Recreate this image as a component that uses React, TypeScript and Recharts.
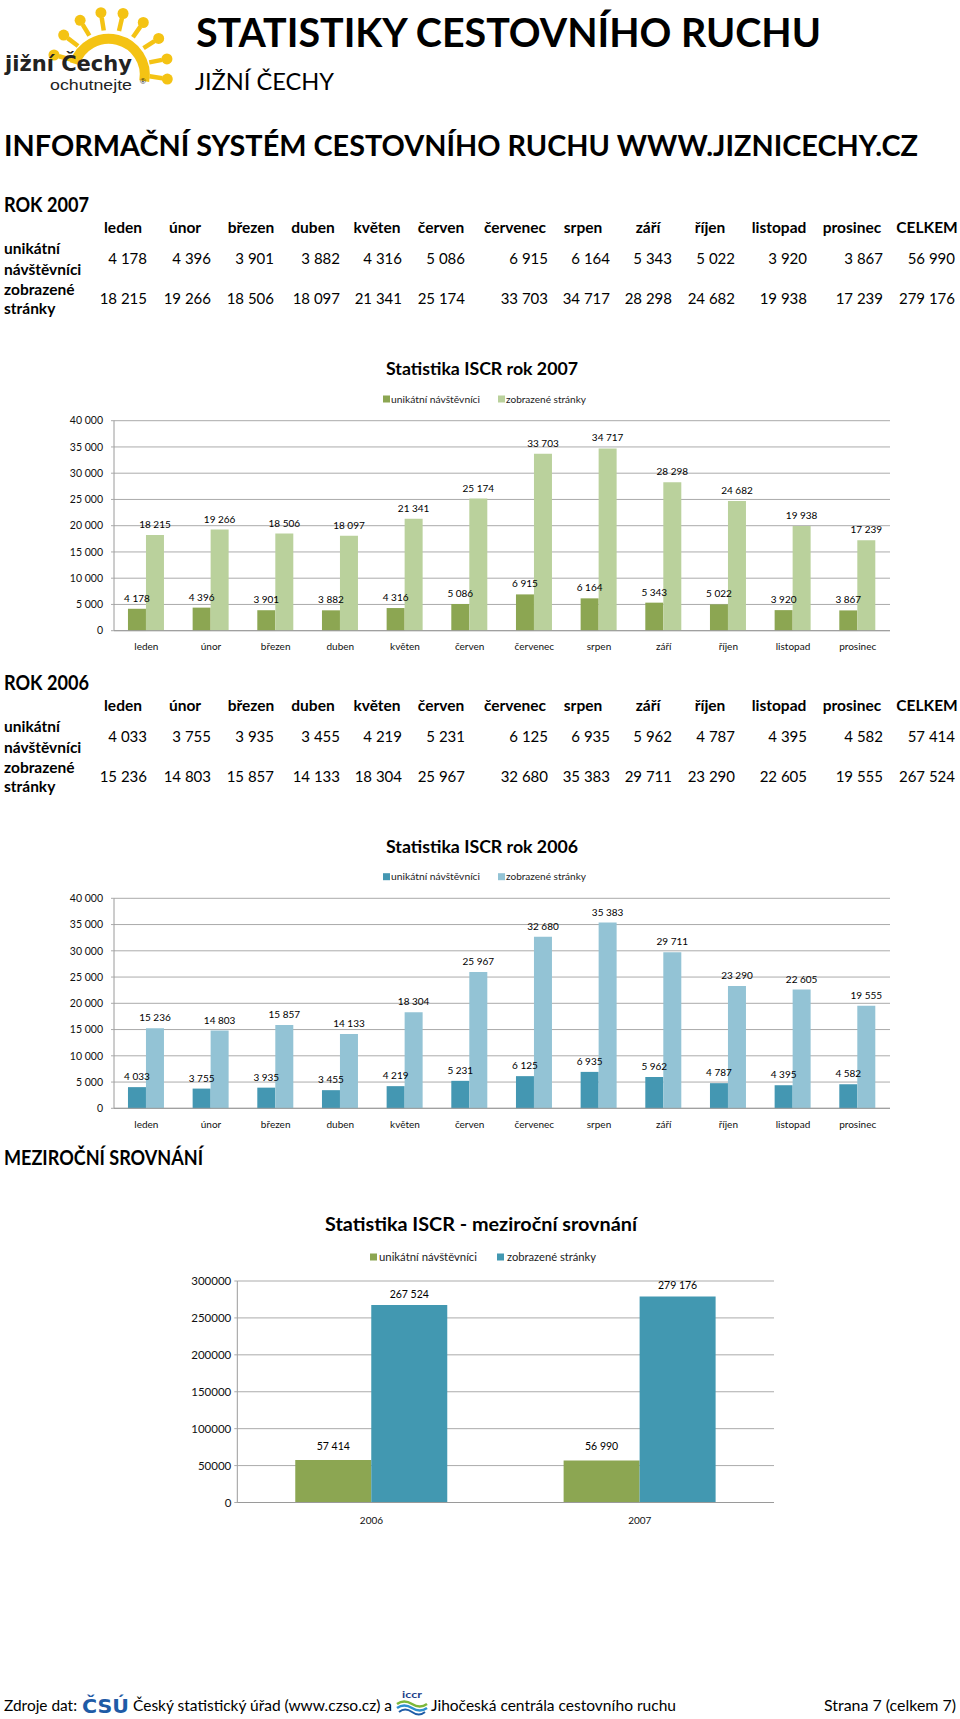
import React from 'react';
import { BarChart, Bar, XAxis, YAxis, CartesianGrid, LabelList } from 'recharts';

// ---------- data ----------
const months = ['leden', 'únor', 'březen', 'duben', 'květen', 'červen', 'červenec', 'srpen', 'září', 'říjen', 'listopad', 'prosinec'];
const visitors2007 = [4178, 4396, 3901, 3882, 4316, 5086, 6915, 6164, 5343, 5022, 3920, 3867];
const pages2007 = [18215, 19266, 18506, 18097, 21341, 25174, 33703, 34717, 28298, 24682, 19938, 17239];
const visitors2006 = [4033, 3755, 3935, 3455, 4219, 5231, 6125, 6935, 5962, 4787, 4395, 4582];
const pages2006 = [15236, 14803, 15857, 14133, 18304, 25967, 32680, 35383, 29711, 23290, 22605, 19555];
const years = ['2006', '2007'];
const totalVisitors = [57414, 56990];
const totalPages = [267524, 279176];
const seriesNames = ['unikátní návštěvníci', 'zobrazené stránky'];
const rowLabels = [['unikátní', 'návštěvníci'], ['zobrazené', 'stránky']];
const totalHeader = 'CELKEM';
const ticksMonthly = [0, 5000, 10000, 15000, 20000, 25000, 30000, 35000, 40000];
const ticksYearly = [0, 50000, 100000, 150000, 200000, 250000, 300000];

// ---------- layout ----------
const colCenters = [123, 185, 251, 313, 377, 441, 515, 583, 648, 710, 779, 852, 927];
const colRights = [147, 211, 274, 340, 402, 465, 548, 610, 672, 735, 807, 883, 955];

const C = {
  g1: '#8CA652',
  g2: '#BAD19C',
  b1: '#4497B2',
  b2: '#93C3D5',
  t3: '#4298B1',
  grid: '#ABABAB',
  axis: '#9A9A9A',
};

const FONT = 'Lato, "Noto Sans", sans-serif';

// thousands separated by a space (plain space for the tables)
const fmt = (v: any) => String(v).replace(/\B(?=(\d{3})+(?!\d))/g, ' ');
// non-breaking space for chart labels so they never wrap
const fmtNb = (v: any) => String(v).replace(/\B(?=(\d{3})+(?!\d))/g, '\u00A0');

const data2007 = months.map((m, i) => ({ month: m, visitors: visitors2007[i], pages: pages2007[i] }));
const data2006 = months.map((m, i) => ({ month: m, visitors: visitors2006[i], pages: pages2006[i] }));
const dataYears = years.map((y, i) => ({ year: y, visitors: totalVisitors[i], pages: totalPages[i] }));

type TP = {
  x: number; y: number; children: any; size?: number; weight?: number | string;
  anchor?: 'start' | 'middle' | 'end'; len?: number; fill?: string; family?: string; style?: any;
};
const Txt = ({ x, y, children, size = 15, weight = 400, anchor = 'start', len, fill = '#000', family = FONT, style }: TP) => (
  <text
    x={x}
    y={y}
    fontSize={size}
    fontWeight={weight}
    textAnchor={anchor}
    fill={fill}
    fontFamily={family}
    textLength={len}
    lengthAdjust={len ? 'spacingAndGlyphs' : undefined}
    style={style}
  >
    {children}
  </text>
);

function Table({ year, vis, pag, totV, totP, dy }: any) {
  const heads = [...months, totalHeader];
  const row1 = [...vis, totV];
  const row2 = [...pag, totP];
  return (
    <g>
      <Txt x={4} y={211.7 + dy} size={20} weight={700} len={85}>ROK {year}</Txt>
      {heads.map((h, i) => (
        <Txt key={'h' + i} x={colCenters[i]} y={232.5 + dy} size={15.5} weight={700} anchor="middle">{h}</Txt>
      ))}
      <Txt x={4} y={254 + dy} size={15.5} weight={700}>{rowLabels[0][0]}</Txt>
      <Txt x={4} y={275 + dy} size={15.5} weight={700}>{rowLabels[0][1]}</Txt>
      <Txt x={4} y={295 + dy} size={15.5} weight={700}>{rowLabels[1][0]}</Txt>
      <Txt x={4} y={313.5 + dy} size={15.5} weight={700}>{rowLabels[1][1]}</Txt>
      {row1.map((v, i) => (
        <Txt key={'a' + i} x={colRights[i]} y={263.5 + dy} size={15} anchor="end">{fmt(v)}</Txt>
      ))}
      {row2.map((v, i) => (
        <Txt key={'b' + i} x={colRights[i]} y={304 + dy} size={15} anchor="end">{fmt(v)}</Txt>
      ))}
    </g>
  );
}

function Legend2({ y, c1, c2, x1, t1, l1, x2, t2, l2, size }: any) {
  return (
    <g>
      <rect x={x1} y={y - 3.5} width={7} height={7} fill={c1} />
      <Txt x={t1} y={y + 3.6} size={size} len={l1} fill="#222">{seriesNames[0]}</Txt>
      <rect x={x2} y={y - 3.5} width={7} height={7} fill={c2} />
      <Txt x={t2} y={y + 3.6} size={size} len={l2} fill="#222">{seriesNames[1]}</Txt>
    </g>
  );
}

function Logo() {
  const cx = 110, cy = 70;
  const rays = [-165, -143, -121, -99, -77, -55, -33, -11, 9];
  const pt = (r: number, a: number) => {
    const t = (a * Math.PI) / 180;
    return [cx + r * Math.cos(t), cy + r * Math.sin(t)];
  };
  const [sx, sy] = pt(36, -170);
  const [ex, ey] = pt(36, 18);
  const Y = '#F4C314';
  return (
    <g>
      <path d={`M ${sx} ${sy} A 36 36 0 0 1 ${ex} ${ey}`} stroke={Y} strokeWidth={10} fill="none" />
      {rays.map((a) => {
        const [ax, ay] = pt(40, a);
        const [bx, by] = pt(53, a);
        const [qx, qy] = pt(58, a);
        return (
          <g key={a}>
            <line x1={ax} y1={ay} x2={bx} y2={by} stroke={Y} strokeWidth={4.5} />
            <circle cx={qx} cy={qy} r={5.5} fill={Y} />
          </g>
        );
      })}
      <Txt x={5} y={71} size={21} weight={700} len={127} family='"DejaVu Sans", sans-serif' fill="#222">jižní Čechy</Txt>
      <Txt x={50} y={90} size={14.5} len={82} family='"Liberation Sans", Arial, sans-serif' fill="#222">ochutnejte</Txt>
      <Txt x={140} y={84} size={8} family='"Liberation Sans", Arial, sans-serif' fill="#222">®</Txt>
    </g>
  );
}

function Footer() {
  const y = 1711;
  return (
    <g>
      <Txt x={4} y={y} size={15} len={73}>Zdroje dat:</Txt>
      <Txt x={82} y={y + 2} size={19} weight={900} len={47} fill="#1E5BA6" family='"DejaVu Sans", sans-serif'>ČSÚ</Txt>
      <Txt x={133} y={y} size={15} len={259}>Český statistický úřad (www.czso.cz) a</Txt>
      <Txt x={402} y={1698} size={9} weight={700} fill="#1E3F8A" len={20}>iccr</Txt>
      <path d="M 397 1704 Q 404 1699 412 1704 T 427 1704" stroke="#7DB83A" strokeWidth={2.5} fill="none" />
      <path d="M 397 1708 Q 404 1703 412 1708 T 427 1708" stroke="#2F8FCF" strokeWidth={2.5} fill="none" />
      <path d="M 399 1712 Q 405 1707 412 1712 T 425 1712" stroke="#1E5BA6" strokeWidth={2} fill="none" />
      <Txt x={431} y={y} size={15} len={245}>Jihočeská centrála cestovního ruchu</Txt>
      <Txt x={824} y={y} size={15} len={132}>Strana 7 (celkem 7)</Txt>
    </g>
  );
}

const tickStyle = { fontSize: 10, fill: '#111', fontFamily: FONT };

function MonthChart({ data, c1, c2, top, mTop, mBottom }: any) {
  return (
    <div style={{ position: 'absolute', left: 0, top, width: 960, height: 320 }}>
      <BarChart
        width={960}
        height={320}
        data={data}
        margin={{ top: mTop, right: 70, bottom: mBottom, left: 54 }}
        barCategoryGap="21.6%"
        barGap={0}
      >
        <CartesianGrid vertical={false} stroke={C.grid} />
        <XAxis
          dataKey="month"
          axisLine={{ stroke: C.axis }}
          tickLine={false}
          tickSize={0}
          tickMargin={12.5}
          tick={tickStyle}
          interval={0}
          height={30}
        />
        <YAxis
          width={60}
          domain={[0, 40000]}
          ticks={ticksMonthly}
          tickFormatter={fmtNb}
          axisLine={{ stroke: C.axis }}
          tickLine={{ stroke: C.grid }}
          tickSize={3}
          tickMargin={8}
          tick={{ ...tickStyle, fontSize: 10.5 }}
          interval={0}
        />
        <Bar dataKey="visitors" name={seriesNames[0]} fill={c1} isAnimationActive={false}>
          <LabelList dataKey="visitors" position="top" offset={7} formatter={fmtNb} fontSize={10} fill="#000" fontFamily={FONT} />
        </Bar>
        <Bar dataKey="pages" name={seriesNames[1]} fill={c2} isAnimationActive={false}>
          <LabelList dataKey="pages" position="top" offset={7} formatter={fmtNb} fontSize={10} fill="#000" fontFamily={FONT} />
        </Bar>
      </BarChart>
    </div>
  );
}

function YearChart() {
  return (
    <div style={{ position: 'absolute', left: 0, top: 1200, width: 960, height: 340 }}>
      <BarChart
        width={960}
        height={340}
        data={dataYears}
        margin={{ top: 81, right: 186, bottom: 7.5, left: 177.3 }}
        barCategoryGap="21.6%"
        barGap={0}
      >
        <CartesianGrid vertical={false} stroke={C.grid} />
        <XAxis
          dataKey="year"
          axisLine={{ stroke: C.axis }}
          tickLine={false}
          tickSize={0}
          tickMargin={14.5}
          tick={tickStyle}
          interval={0}
          height={30}
        />
        <YAxis
          width={60}
          domain={[0, 300000]}
          ticks={ticksYearly}
          axisLine={{ stroke: C.axis }}
          tickLine={{ stroke: C.grid }}
          tickSize={3}
          tickMargin={3}
          tick={{ ...tickStyle, fontSize: 11.5 }}
          interval={0}
        />
        <Bar dataKey="visitors" name={seriesNames[0]} fill={C.g1} isAnimationActive={false}>
          <LabelList dataKey="visitors" position="top" offset={10} formatter={fmtNb} fontSize={10.5} fill="#000" fontFamily={FONT} />
        </Bar>
        <Bar dataKey="pages" name={seriesNames[1]} fill={C.t3} isAnimationActive={false}>
          <LabelList dataKey="pages" position="top" offset={7} formatter={fmtNb} fontSize={10.5} fill="#000" fontFamily={FONT} />
        </Bar>
      </BarChart>
    </div>
  );
}

export default function App() {
  return (
    <div style={{ position: 'absolute', left: 0, top: 0, width: 960, height: 1719, background: '#fff', fontFamily: FONT, overflow: 'hidden' }}>
      <svg width={960} height={1719} style={{ position: 'absolute', left: 0, top: 0 }}>
        <Logo />
        <Txt x={196} y={47} size={40} weight={700} len={625}>STATISTIKY CESTOVNÍHO RUCHU</Txt>
        <Txt x={195} y={90} size={24} len={139}>JIŽNÍ ČECHY</Txt>
        <Txt x={4} y={156} size={29} weight={700} len={914}>INFORMAČNÍ SYSTÉM CESTOVNÍHO RUCHU WWW.JIZNICECHY.CZ</Txt>

        <Table year="2007" vis={visitors2007} pag={pages2007} totV={totalVisitors[1]} totP={totalPages[1]} dy={0} />
        <Txt x={482} y={375} size={16.5} weight={700} anchor="middle" len={192}>Statistika ISCR rok 2007</Txt>
        <Legend2 y={399} c1={C.g1} c2={C.g2} x1={383} t1={391} l1={89} x2={498} t2={506} l2={80} size={10} />

        <Table year="2006" vis={visitors2006} pag={pages2006} totV={totalVisitors[0]} totP={totalPages[0]} dy={478} />
        <Txt x={482} y={852.6} size={16.5} weight={700} anchor="middle" len={192}>Statistika ISCR rok 2006</Txt>
        <Legend2 y={876.7} c1={C.b1} c2={C.b2} x1={383} t1={391} l1={89} x2={498} t2={506} l2={80} size={10} />

        <Txt x={4} y={1165} size={20} weight={700} len={199}>MEZIROČNÍ SROVNÁNÍ</Txt>
        <Txt x={481} y={1230.5} size={18} weight={700} anchor="middle" len={312}>Statistika ISCR - meziroční srovnání</Txt>
        <Legend2 y={1257} c1={C.g1} c2={C.t3} x1={370} t1={379} l1={98} x2={497} t2={507} l2={89} size={11} />

        <Footer />
      </svg>
      <MonthChart data={data2007} c1={C.g1} c2={C.g2} top={350} mTop={70.7} mBottom={9.3} />
      <MonthChart data={data2006} c1={C.b1} c2={C.b2} top={820} mTop={78.3} mBottom={1.7} />
      <YearChart />
    </div>
  );
}
